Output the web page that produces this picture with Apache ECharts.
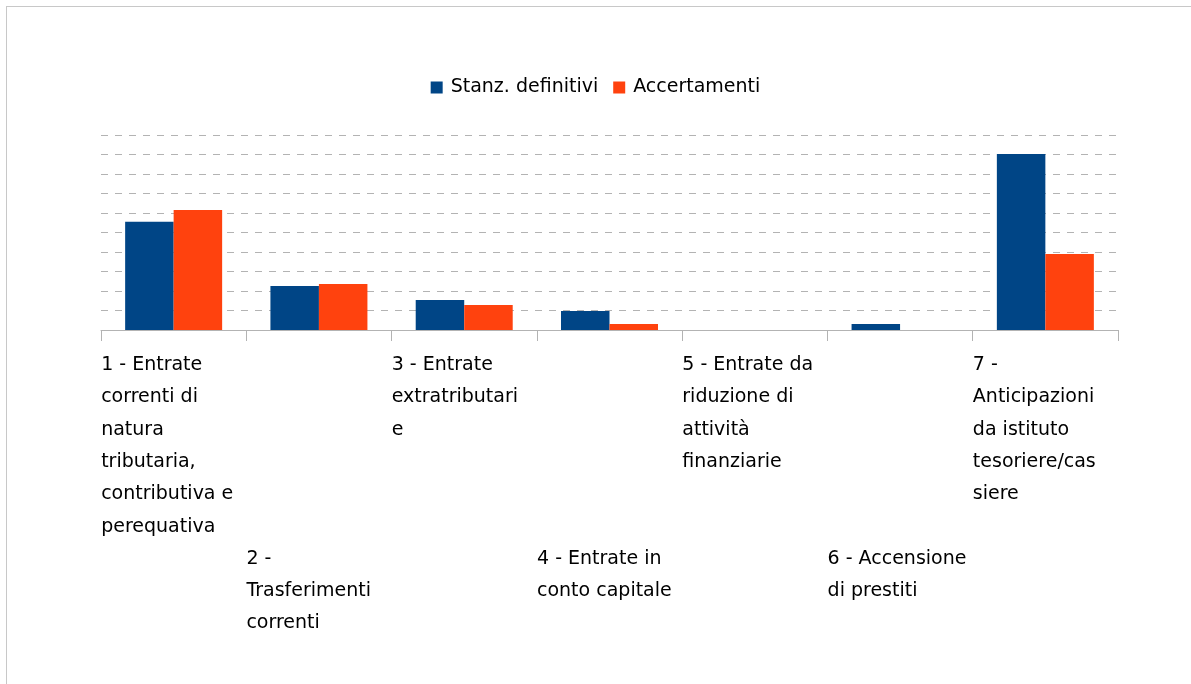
<!DOCTYPE html>
<html>
<head>
<meta charset="utf-8">
<script src="https://cdn.jsdelivr.net/npm/echarts@6/dist/echarts.min.js"></script>
<style>
html,body{margin:0;padding:0;background:#fff;}
#frame{position:absolute;left:6px;top:6px;width:1300px;height:800px;border-left:1px solid #c8c8c8;border-top:1px solid #c8c8c8;}
#chart{position:absolute;left:0;top:0;width:1191px;height:684px;}
</style>
</head>
<body>
<div id="frame"></div>
<div id="chart"></div>
<script>
const categories = [
  "1 - Entrate correnti di natura tributaria, contributiva e perequativa",
  "2 - Trasferimenti correnti",
  "3 - Entrate extratributarie",
  "4 - Entrate in conto capitale",
  "5 - Entrate da riduzione di attività finanziarie",
  "6 - Accensione di prestiti",
  "7 - Anticipazioni da istituto tesoriere/cassiere"
];
const tickLabels = [
  "1 - Entrate\ncorrenti di\nnatura\ntributaria,\ncontributiva e\nperequativa",
  "2 -\nTrasferimenti\ncorrenti",
  "3 - Entrate\nextratributari\ne",
  "4 - Entrate in\nconto capitale",
  "5 - Entrate da\nriduzione di\nattività\nfinanziarie",
  "6 - Accensione\ndi prestiti",
  "7 -\nAnticipazioni\nda istituto\ntesoriere/cas\nsiere"
];
const seriesNames = ["Stanz. definitivi", "Accertamenti"];
const stanzDefinitivi = [5.55, 2.26, 1.54, 0.97, 0, 0.31, 9.03];
const accertamenti = [6.15, 2.36, 1.28, 0.31, 0, 0, 3.9];

const FONT = "DejaVu Sans, sans-serif";
const chart = echarts.init(document.getElementById('chart'));
chart.setOption({
  animation: false,
  textStyle: { fontFamily: FONT },
  legend: {
    top: 73,
    left: 'center',
    itemWidth: 12,
    itemHeight: 12,
    itemGap: 15,
    icon: 'rect',
    textStyle: { fontSize: 19, color: '#000', fontFamily: FONT, padding: [0, 0, 0, 3] },
    data: seriesNames
  },
  grid: { left: 101, right: 73, top: 135, bottom: 354, containLabel: false },
  xAxis: {
    type: 'category',
    data: categories,
    axisLine: { lineStyle: { color: '#b3b3b3', width: 1 } },
    axisTick: { show: true, length: 11, lineStyle: { color: '#b3b3b3' } },
    axisLabel: {
      interval: 0,
      margin: 19,
      verticalAlign: 'top',
      formatter: function (v, i) {
        const lines = tickLabels[i].split('\n');
        const pre = (i % 2 === 1) ? '{s|}\n{s|}\n{s|}\n{s|}\n{s|}\n{s|}\n' : '';
        return pre + lines.map(l => '{a|' + l + '}').join('\n');
      },
      rich: {
        a: { width: 145, align: 'left', fontSize: 19, lineHeight: 32.3, color: '#000', fontFamily: FONT },
        s: { width: 145, lineHeight: 32.3, fontSize: 19 }
      }
    }
  },
  yAxis: {
    type: 'value',
    min: 0,
    max: 10,
    interval: 1,
    axisLabel: { show: false },
    axisLine: { show: false },
    axisTick: { show: false },
    splitLine: { show: true, lineStyle: { color: '#b3b3b3', type: [7, 7], width: 1 } }
  },
  series: [
    { name: seriesNames[0], type: 'bar', data: stanzDefinitivi, barWidth: 48.5, barGap: '0%', itemStyle: { color: '#004586' } },
    { name: seriesNames[1], type: 'bar', data: accertamenti, barWidth: 48.5, barGap: '0%', itemStyle: { color: '#ff420e' } }
  ]
});
</script>
</body>
</html>
